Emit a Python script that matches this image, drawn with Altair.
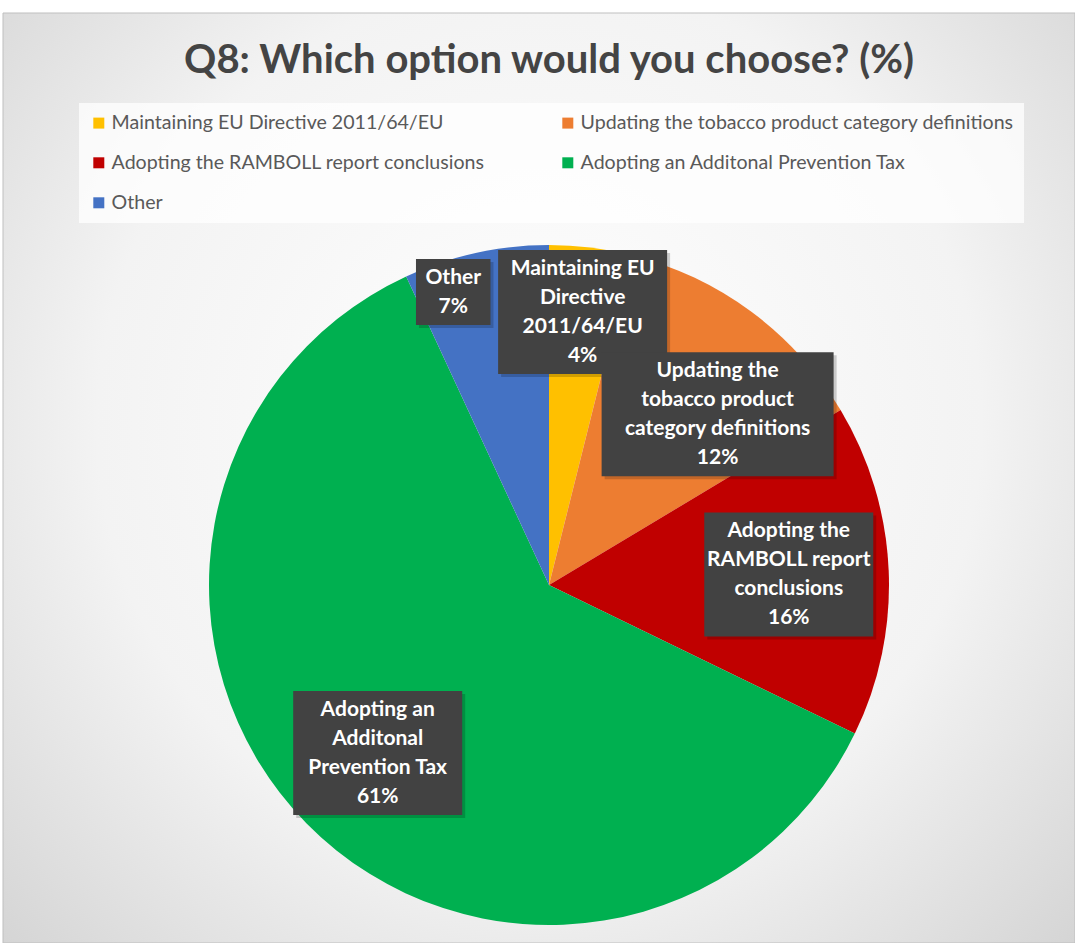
import altair as alt
import pandas as pd

title_text = "Q8: Which option would you choose? (%)"
categories = [
    "Maintaining EU Directive 2011/64/EU",
    "Updating the tobacco product category definitions",
    "Adopting the RAMBOLL report conclusions",
    "Adopting an Additonal Prevention Tax",
    "Other",
]
values = [3.9, 12.5, 15.8, 60.9, 6.9]
pct_labels = ["4%", "12%", "16%", "61%", "7%"]
label_text = [
    "Maintaining EU\nDirective\n2011/64/EU",
    "Updating the\ntobacco product\ncategory definitions",
    "Adopting the\nRAMBOLL report\nconclusions",
    "Adopting an\nAdditonal\nPrevention Tax",
    "Other",
]
colors = ["#FFC000", "#ED7D31", "#C00000", "#00B050", "#4472C4"]

W, H = 1075, 943
CX, CY, R = 549, 585, 340
LH = 29

labels = [t + "\n" + p for t, p in zip(label_text, pct_labels)]
df = pd.DataFrame({
    "category": categories,
    "value": values,
    "idx": list(range(len(categories))),
    "label": labels,
    "nlines": [len(l.split("\n")) for l in labels],
    "maxchars": [max(len(s) for s in l.split("\n")) for l in labels],
})

FONT = "Lato"

bg = alt.Chart(pd.DataFrame({"a": [1]})).mark_rect(
    fill={
        "gradient": "radial",
        "x1": 0.5, "y1": 0.45, "r1": 0,
        "x2": 0.5, "y2": 0.45, "r2": 0.75,
        "stops": [
            {"offset": 0, "color": "#ffffff"},
            {"offset": 0.55, "color": "#f3f3f3"},
            {"offset": 1, "color": "#cfcfcf"},
        ],
    },
    stroke="#bfbfbf", strokeWidth=1,
).encode(x=alt.value(3), x2=alt.value(W), y=alt.value(13), y2=alt.value(H))

title = alt.Chart(pd.DataFrame({"t": [title_text]})).mark_text(
    font=FONT, fontSize=40, fontWeight="bold", color="#444444",
    align="center", baseline="middle",
).encode(x=alt.value(549), y=alt.value(61), text="t:N")

pie = alt.Chart(df).mark_arc(outerRadius=R).encode(
    theta=alt.Theta("value:Q", stack=True),
    order=alt.Order("idx:Q"),
    color=alt.Color(
        "category:N",
        scale=alt.Scale(domain=categories, range=colors),
        legend=alt.Legend(
            title=None, orient="none", legendX=79, legendY=103,
            direction="horizontal",
            columns=2, columnPadding=73, rowPadding=19,
            symbolType="square", symbolSize=121, symbolStrokeWidth=0,
            labelFont=FONT, labelFontSize=19.6, labelColor="#595959",
            labelOffset=3, labelLimit=600,
            fillColor="rgba(255,255,255,0.75)", padding=10,
        ),
    ),
    x=alt.value(CX), y=alt.value(CY),
)

base = alt.Chart(df).transform_window(
    cum="sum(value)", sort=[alt.SortField("idx")], frame=[None, 0]
).transform_joinaggregate(total="sum(value)").transform_calculate(
    ang="(datum.cum - datum.value/2) / datum.total * 2 * PI",
    bw="datum.maxchars * 10.5 + 22",
    bh=f"datum.nlines * {LH} + 8",
).transform_calculate(
    lr="datum.value < 10 ? (sin(datum.ang) < 0 ? 300 : 275) : 240",
).transform_calculate(
    lx0=f"{CX} + datum.lr * sin(datum.ang)",
    ly0=f"{CY} - datum.lr * cos(datum.ang)",
).transform_window(
    window=[
        alt.WindowFieldDef(op="lag", field="lx0", **{"as": "plx"}),
        alt.WindowFieldDef(op="lag", field="ly0", **{"as": "ply"}),
        alt.WindowFieldDef(op="lag", field="bh", **{"as": "pbh"}),
    ],
    sort=[alt.SortField("idx")],
).transform_calculate(
    push=("datum.plx != null && sin(datum.ang) > 0 && datum.value >= 10 && "
          "(datum.ply + datum.pbh/2) > (datum.ly0 - datum.bh/2)"),
).transform_calculate(
    ang2=(f"datum.push ? asin(clamp((datum.plx + 19 + datum.bw/2 - {CX}) / datum.lr, -1, 1))"
          " : datum.ang"),
).transform_calculate(
    lx=(f"{CX} + datum.lr * sin(datum.ang2) - "
        "((datum.value < 10 && sin(datum.ang2) < 0) ? datum.bw/2 - 6 : 0)"),
    ly=f"{CY} - datum.lr * cos(datum.ang2)",
).transform_calculate(
    ty=f"datum.ly - (datum.nlines - 1) * {LH} / 2",
    bx1="datum.lx - datum.bw/2", bx2="datum.lx + datum.bw/2",
    by1="datum.ly - datum.bh/2", by2="datum.ly + datum.bh/2",
    sx1="datum.lx - datum.bw/2 + 3", sx2="datum.lx + datum.bw/2 + 3",
    sy1="datum.ly - datum.bh/2 + 3", sy2="datum.ly + datum.bh/2 + 3",
)

shadow = base.mark_rect(fill="#000000", opacity=0.18).encode(
    x=alt.X("sx1:Q", scale=None, axis=None), x2="sx2:Q",
    y=alt.Y("sy1:Q", scale=None, axis=None), y2="sy2:Q",
)
box = base.mark_rect(fill="#424242").encode(
    x=alt.X("bx1:Q", scale=None, axis=None), x2="bx2:Q",
    y=alt.Y("by1:Q", scale=None, axis=None), y2="by2:Q",
)
text = base.mark_text(
    font=FONT, fontSize=21, fontWeight="bold", color="white",
    align="center", baseline="middle", lineBreak="\n", lineHeight=LH,
).encode(
    x=alt.X("lx:Q", scale=None, axis=None),
    y=alt.Y("ty:Q", scale=None, axis=None),
    text="label:N",
)

chart = alt.layer(bg, title, pie, shadow, box, text).properties(
    width=W, height=H, padding=0, autosize="none", background="white"
).configure_view(stroke=None)

chart.save("out.html", embed_options={"renderer": "svg", "actions": False})
